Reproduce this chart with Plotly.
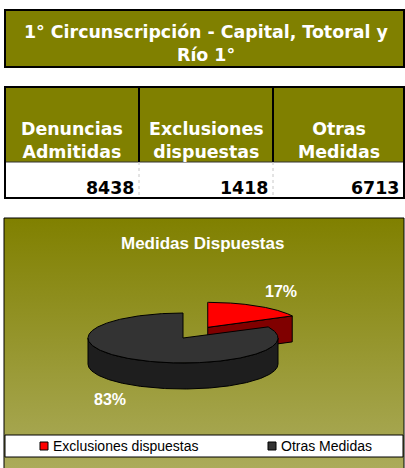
import numpy as np
import plotly.graph_objects as go

# ---------------- data ----------------
title_lines = ["1° Circunscripción - Capital, Totoral y", "Río 1°"]
table_headers = ["Denuncias<br>Admitidas", "Exclusiones<br>dispuestas", "Otras<br>Medidas"]
table_values = [8438, 1418, 6713]
chart_title = "Medidas Dispuestas"
categories = ["Exclusiones dispuestas", "Otras Medidas"]
values = [1418, 6713]
top_colors = ["#FF0000", "#333333"]
side_colors = ["#800000", "#1E1E1E"]
explode = [0.5, 0.0]

W, H = 405, 468
OLIVE = "#808000"
FS = 17.4

fig = go.Figure()
shapes = []
annotations = []

# ---------------- chart area background (gradient) ----------------
fig.add_trace(go.Scatter(
    x=[4, 404, 404, 4, 4], y=[218, 218, 475, 475, 218],
    mode="lines", fill="toself",
    fillgradient=dict(type="vertical", start=218, stop=468,
                      colorscale=[[0, "#808000"], [1, "#ABAB5A"]]),
    line=dict(color="black", width=1), hoverinfo="skip", showlegend=False))

# ---------------- 3D pie ----------------
cx, cy, a, b, depth = 183, 338, 95, 25, 26
total = float(sum(values))
fracs = [v / total for v in values]

def pt(theta, ox, oy, dz=0.0):
    t = np.radians(theta)
    return ox + a * np.cos(t), oy - b * np.sin(t) + dz

slices = []
cum = 0.0
for i, f in enumerate(fracs):
    hi = 90 - cum * 360
    lo = hi - f * 360
    mid = (hi + lo) / 2
    ex = explode[i]
    ox = cx + ex * a * np.cos(np.radians(mid))
    oy = cy - ex * b * np.sin(np.radians(mid))
    slices.append(dict(i=i, hi=hi, lo=lo, mid=mid, ox=ox, oy=oy))
    cum += f

def poly(xs, ys, color):
    xs = list(xs) + [xs[0]]
    ys = list(ys) + [ys[0]]
    fig.add_trace(go.Scatter(x=xs, y=ys, mode="lines", fill="toself",
                             fillcolor=color, line=dict(color="black", width=1),
                             hoverinfo="skip", showlegend=False))

# back slices first
for s in sorted(slices, key=lambda s: -np.sin(np.radians(s["mid"]))):
    i, hi, lo, ox, oy = s["i"], s["hi"], s["lo"], s["ox"], s["oy"]
    # radial faces
    for ang, visible in ((hi, np.cos(np.radians(hi)) < -1e-6),
                         (lo, np.cos(np.radians(lo)) > 1e-6)):
        if visible:
            ex_, ey_ = pt(ang, ox, oy)
            poly([ox, ex_, ex_, ox], [oy, ey_, ey_ + depth, oy + depth], side_colors[i])
    # outer side (front half only)
    th = np.linspace(lo, hi, 721)
    front = np.sin(np.radians(th)) <= 1e-9
    runs, cur = [], []
    for t, fr in zip(th, front):
        if fr:
            cur.append(t)
        elif cur:
            runs.append(cur); cur = []
    if cur:
        runs.append(cur)
    for r in runs:
        if len(r) < 2:
            continue
        r = np.array(r)
        tx, ty = pt(r, ox, oy)
        bx, by = pt(r[::-1], ox, oy, depth)
        poly(np.concatenate([tx, bx]), np.concatenate([ty, by]), side_colors[i])
    # top face
    th = np.linspace(hi, lo, 361)
    tx, ty = pt(th, ox, oy)
    poly(np.concatenate([[ox], tx]), np.concatenate([[oy], ty]), top_colors[i])

# percentage labels
for s in slices:
    m = np.radians(s["mid"])
    lx = s["ox"] + (a + 46) * np.cos(m)
    ly = s["oy"] - (b + 17) * np.sin(m) + (depth if np.sin(m) < 0 else 0)
    annotations.append(dict(x=lx, y=ly, text="%d%%" % round(fracs[s["i"]] * 100),
                            showarrow=False, xanchor="center", yanchor="middle",
                            font=dict(family="Liberation Sans", size=16, color="white",
                                      weight="bold")))

# chart title
annotations.append(dict(x=202, y=243, text=chart_title, showarrow=False,
                        xanchor="center", yanchor="middle",
                        font=dict(family="Liberation Sans", size=17, color="white",
                                  weight="bold")))

# legend
shapes.append(dict(type="rect", x0=5, x1=403, y0=435, y1=457, fillcolor="white",
                   line=dict(color="black", width=1), layer="above"))
leg_x = [40, 268]
for i, cat in enumerate(categories):
    shapes.append(dict(type="rect", x0=leg_x[i], x1=leg_x[i] + 8, y0=442, y1=450,
                       fillcolor=top_colors[i], line=dict(color="black", width=1),
                       layer="above"))
    annotations.append(dict(x=leg_x[i] + 11, y=446, text=cat, showarrow=False,
                            xanchor="left", yanchor="middle",
                            font=dict(family="Liberation Sans", size=14, color="black")))

# ---------------- title box ----------------
shapes.append(dict(type="rect", x0=5, x1=404, y0=10, y1=67, fillcolor=OLIVE,
                   line=dict(color="black", width=2)))
for k, line in enumerate(title_lines):
    annotations.append(dict(x=206, y=32 + k * 23, text=line, showarrow=False,
                            xanchor="center", yanchor="middle",
                            font=dict(family="DejaVu Sans", size=FS, color="white",
                                      weight="bold")))

# ---------------- table ----------------
col_edges = [5, 139, 273, 404]
shapes.append(dict(type="rect", x0=5, x1=404, y0=87, y1=162, fillcolor=OLIVE,
                   line=dict(width=0)))
shapes.append(dict(type="rect", x0=5, x1=404, y0=162, y1=198, fillcolor="white",
                   line=dict(width=0)))
shapes.append(dict(type="line", x0=5, x1=404, y0=162, y1=162,
                   line=dict(color="#333333", width=1)))
for xe in col_edges[1:-1]:
    shapes.append(dict(type="line", x0=xe, x1=xe, y0=87, y1=162,
                       line=dict(color="black", width=2)))
    shapes.append(dict(type="line", x0=xe, x1=xe, y0=162, y1=198,
                       line=dict(color="#C8C8C8", width=1, dash="dot")))
shapes.append(dict(type="rect", x0=5, x1=404, y0=87, y1=198, fillcolor="rgba(0,0,0,0)",
                   line=dict(color="black", width=2)))
for j in range(3):
    xc = (col_edges[j] + col_edges[j + 1]) / 2
    annotations.append(dict(x=xc, y=140, text=table_headers[j], showarrow=False,
                            xanchor="center", yanchor="middle",
                            font=dict(family="DejaVu Sans", size=FS, color="white",
                                      weight="bold")))
    annotations.append(dict(x=col_edges[j + 1] - 3, y=188, text=str(table_values[j]),
                            showarrow=False, xanchor="right", yanchor="middle",
                            font=dict(family="DejaVu Sans", size=FS, color="black",
                                      weight="bold")))

fig.update_layout(
    width=W, height=H, margin=dict(l=0, r=0, t=0, b=0),
    paper_bgcolor="white", plot_bgcolor="white",
    xaxis=dict(range=[0, W], visible=False, fixedrange=True),
    yaxis=dict(range=[H, 0], visible=False, fixedrange=True),
    shapes=shapes, annotations=annotations, showlegend=False,
)

fig.write_html("out.html", config={"displayModeBar": False},
               post_script="document.body.style.margin='0';document.body.style.padding='0';document.body.style.overflow='hidden';")
